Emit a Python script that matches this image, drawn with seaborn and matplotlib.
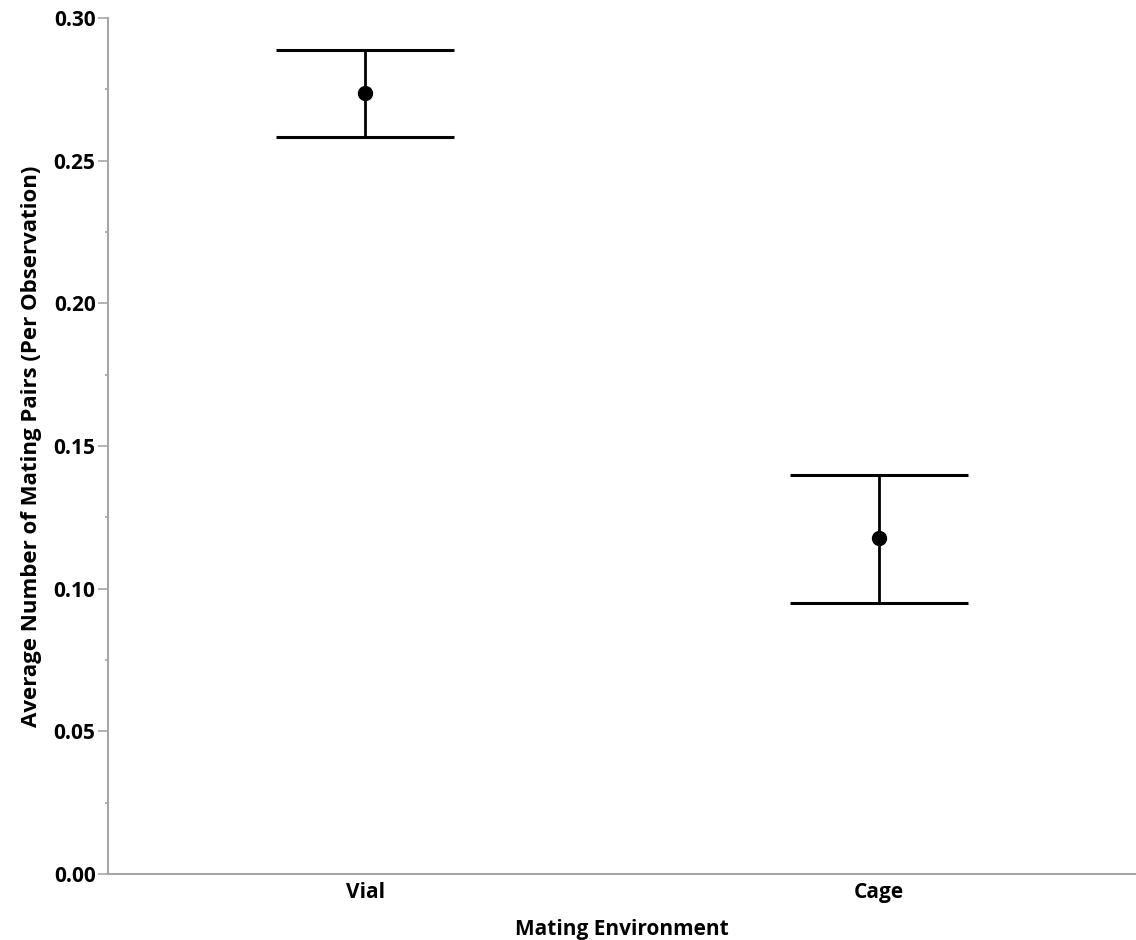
import numpy as np
import pandas as pd
import matplotlib.pyplot as plt
import seaborn as sns
from matplotlib.ticker import MultipleLocator

# values (mean and interval ends)
environments = ["Vial", "Cage"]
mean_pairs = [0.2737, 0.1179]
upper_bound = [0.2888, 0.1400]
lower_bound = [0.2582, 0.0951]

df = pd.DataFrame({"Mating Environment": environments,
                   "Mean": mean_pairs,
                   "Upper": upper_bound,
                   "Lower": lower_bound})

sns.set_style("ticks")
plt.rcParams["font.family"] = ["Open Sans", "DejaVu Sans"]
plt.rcParams["font.weight"] = "bold"
# seaborn greys the text, the original is plain black
plt.rcParams["text.color"] = "black"
plt.rcParams["axes.labelcolor"] = "black"
plt.rcParams["xtick.labelcolor"] = "black"
plt.rcParams["ytick.labelcolor"] = "black"

fig = plt.figure(figsize=(11.36, 9.40), dpi=100)
ax = fig.add_axes([0.0951, 0.0702, 0.9049, 0.9107])

#error bars first, then the mean points on top
pos = np.arange(len(df))
ax.errorbar(pos, df["Mean"],
            yerr=[df["Mean"] - df["Lower"], df["Upper"] - df["Mean"]],
            fmt="none", ecolor="black", elinewidth=2.0,
            capsize=64, capthick=2.2, zorder=2)

sns.pointplot(data=df, x="Mating Environment", y="Mean", errorbar=None,
              linestyle="none", color="black", markers="o",
              markersize=9, ax=ax, zorder=3)

ax.set_xlim(-0.5, 1.5)
ax.set_ylim(0, 0.30)
ax.yaxis.set_major_locator(MultipleLocator(0.05))
ax.yaxis.set_minor_locator(MultipleLocator(0.025))
ax.yaxis.set_major_formatter(plt.FormatStrFormatter("%.2f"))

grey = "#a6a6a6"
for side in ["top", "right"]:
    ax.spines[side].set_visible(False)
for side in ["left", "bottom"]:
    ax.spines[side].set_color(grey)
    ax.spines[side].set_linewidth(1.5)

ax.tick_params(axis="y", which="major", length=7, width=1.2, color=grey,
               labelsize=15, pad=2, labelcolor="black")
ax.tick_params(axis="y", which="minor", length=2.5, width=1.2, color=grey)
ax.tick_params(axis="x", length=0, labelsize=15, pad=6, labelcolor="black")
for lab in ax.get_xticklabels() + ax.get_yticklabels():
    lab.set_fontweight("bold")

ax.set_xlabel("Mating Environment", fontsize=15, fontweight="bold",
              labelpad=11, color="black")
ax.set_ylabel("Average Number of Mating Pairs (Per Observation)",
              fontsize=16, fontweight="bold", labelpad=8, color="black")

fig.savefig("out.png", dpi=100)
